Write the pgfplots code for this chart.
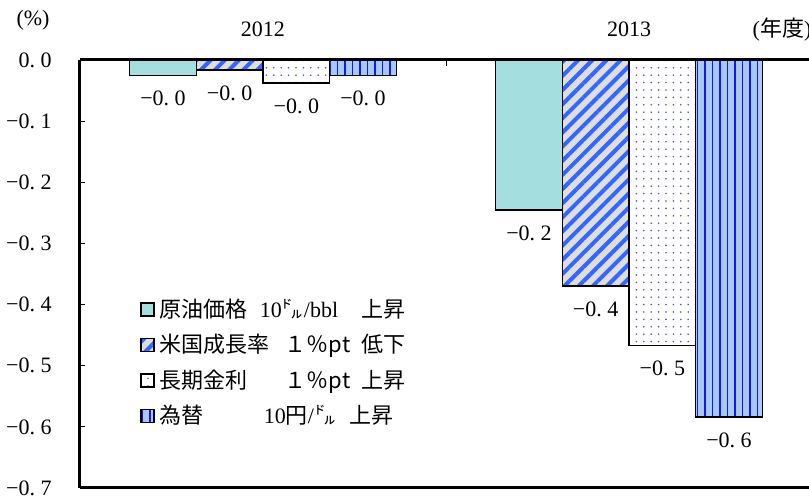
\documentclass[border=0pt]{standalone}
\usepackage{fontspec}
\setmainfont{Liberation Serif}
\newfontfamily\jp{Noto Sans CJK JP}
\usepackage{pgfplots}
\pgfplotsset{compat=1.18}
\usetikzlibrary{patterns.meta}

\definecolor{oil}{RGB}{164,222,222}
\definecolor{usbg}{RGB}{222,222,222}
\definecolor{usln}{RGB}{51,102,255}
\definecolor{dotc}{RGB}{80,80,210}
\definecolor{fxbg}{RGB}{168,201,242}
\definecolor{fxln}{RGB}{20,20,255}

\newcommand\nz[1]{−0.\hspace{.25em}#1}
\newcommand\dl{{\jp ㌦}}

\pgfplotsset{
  mybar/.style={ybar, bar width=0.1822, bar shift=0, draw=black, line width=0.75pt,
    legend image code/.code={\draw[##1, line width=0.75pt] (0pt,-3.25pt) rectangle (6.5pt,3.25pt);}},
}

\begin{document}
\begin{tikzpicture}
\path[use as bounding box] (-40pt,-4.5pt) rectangle (364.5pt,244pt);
\begin{axis}[
  at={(0,0)}, anchor=south west,
  scale only axis, width=364.5pt, height=214pt,
  xmin=-0.5, xmax=1.4918, ymin=-0.7, ymax=0,
  axis x line*=box, axis y line*=left,
  axis line style={line width=1.5pt, black},
  xtick={0,1}, xticklabels={2012,2013},
  minor xtick={0.5},
  xtick pos=upper, xticklabel pos=upper,
  every major x tick/.append style={draw=none},
  every minor x tick/.append style={line width=0.5pt, black},
  minor tick length=3pt,
  major tick length=2.5pt,
  every major y tick/.append style={line width=0.5pt, black},
  xticklabel style={inner sep=0pt, anchor=south, yshift=11.5pt},
  ytick={-0.7,-0.6,-0.5,-0.4,-0.3,-0.2,-0.1,0},
  yticklabels={\nz7,\nz6,\nz5,\nz4,\nz3,\nz2,\nz1,0.\hspace{.25em}0},
  yticklabel style={inner sep=0pt, anchor=east, xshift=-14pt},
  tick label style={font=\fontsize{11}{13}\selectfont},
  nodes near coords,
  point meta=explicit symbolic,
  every node near coord/.append style={anchor=north, inner sep=0pt, yshift=-7.5pt,
    font=\fontsize{11}{13}\selectfont, text=black},
  legend style={draw=none, fill=none, inner sep=0pt, row sep=7pt,
    at={(rel axis cs:0.0823,0.443)}, anchor=north west,
    nodes={inner xsep=2.5pt, inner ysep=0pt},
    font=\fontsize{11}{13}\selectfont},
  legend cell align=left,
  clip=false,
]

% x positions: year (0 = 2012, 1 = 2013) plus the bar's offset within the group
\addplot[mybar, fill=oil] coordinates {
  (-0.2733,-0.025) [\nz0]
  (0.7267,-0.245) [\nz2]
};
\addlegendentry{\makebox[50pt][l]{\jp 原油価格}\makebox[51pt][l]{10\dl/bbl}{\jp 上昇}}

\addplot[mybar, fill=usbg,
  postaction={pattern={Lines[angle=45,distance=5pt,line width=2pt]}, pattern color=usln}] coordinates {
  (-0.0911,-0.016) [\nz0]
  (0.9089,-0.370) [\nz4]
};
\addlegendentry{\makebox[62.5pt][l]{\jp 米国成長率}\makebox[38.5pt][l]{\jp １％pt}{\jp 低下}}

\addplot[mybar, fill=white,
  postaction={pattern={Dots[distance=3.7pt,radius=0.45pt]}, pattern color=dotc}] coordinates {
  (0.0911,-0.038) [\nz0]
  (1.0911,-0.467) [\nz5]
};
\addlegendentry{\makebox[62.5pt][l]{\jp 長期金利}\makebox[38.5pt][l]{\jp １％pt}{\jp 上昇}}

\addplot[mybar, fill=fxbg,
  postaction={pattern={Lines[angle=90,distance=3.75pt,line width=0.75pt]}, pattern color=fxln}] coordinates {
  (0.2733,-0.025) [\nz0]
  (1.2733,-0.584) [\nz6]
};
\addlegendentry{\makebox[52pt][l]{\jp 為替}\makebox[43pt][l]{10{\jp 円}/\dl}{\jp 上昇}}

\node[font=\fontsize{11}{13}\selectfont] at ([xshift=-23.5pt,yshift=20pt]rel axis cs:0,1) {(\%)};
\node[font=\fontsize{11}{13}\selectfont] at ([xshift=351pt,yshift=15pt]rel axis cs:0,1) {({\jp 年度})};
\end{axis}
\end{tikzpicture}
\end{document}
